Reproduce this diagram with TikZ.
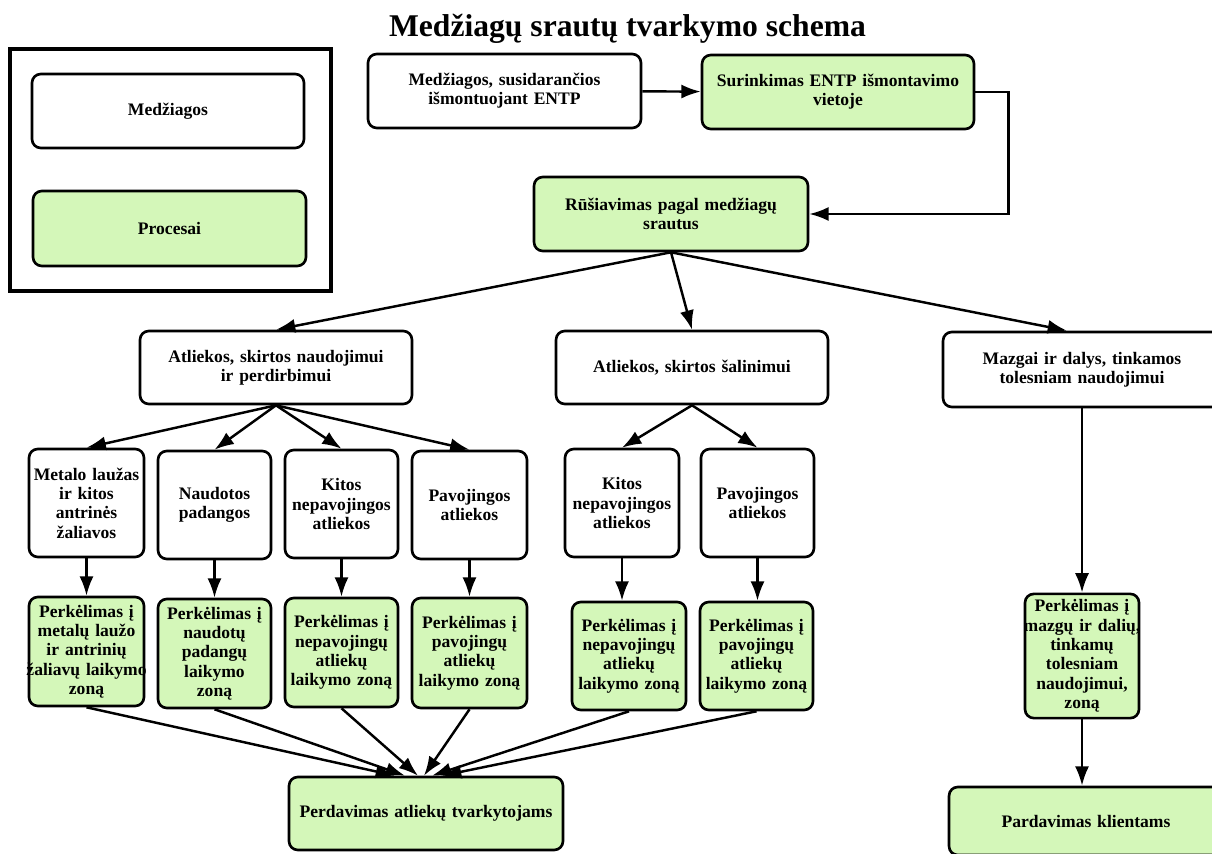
\documentclass[tikz,border=0pt]{standalone}
\usepackage{fontspec}
\setmainfont{Liberation Serif}
\usepackage{xcolor}
\usepackage{tikz}
\usetikzlibrary{arrows.meta}

\definecolor{procgreen}{RGB}{212,247,185}

\newcommand{\wideline}[1]{\makebox[\linewidth]{#1}}

\tikzset{
  boxsize/.style 2 args={text width=#1, minimum width=#1, minimum height=#2},
  mat/.style={draw, line width=1.5pt, rounded corners=5pt, fill=white, align=center, inner xsep=0pt,
    font=\fontsize{10}{11}\selectfont\bfseries},
  proc/.style={mat, fill=procgreen},
  arr/.style={-{Latex[length=11pt,width=8pt]}, line width=1.4pt}
}

\begin{document}
\begin{tikzpicture}[x=0.02cm, y=-0.02cm]
      \useasboundingbox (0,0) rectangle (1212,854);
      \clip (0,0) rectangle (1212,854);

      \node[anchor=base, font=\fontsize{18}{21}\selectfont\bfseries] (title) at (627.5,37){Medžiagų srautų tvarkymo schema};

      % legend
      \node[draw, line width=1.8pt, minimum width=6.42cm, minimum height=4.84cm] (legend) at (170.5,170){};
      \node[mat, boxsize={5.44cm}{1.48cm}] (legmat) at (168,111){Medžiagos};
      \node[proc, boxsize={5.46cm}{1.5cm}] (legproc) at (169.5,228.5){Procesai};

      \node[mat, boxsize={5.46cm}{1.48cm}] (src) at (504.5,91){Medžiagos, susidarančios\\ išmontuojant ENTP};
      \node[proc, boxsize={5.44cm}{1.48cm}] (collect) at (838,92){Surinkimas ENTP išmontavimo\\ vietoje};
      \node[proc, boxsize={5.48cm}{1.48cm}] (sort) at (671,214){Rūšiavimas pagal medžiagų\\ srautus};

      \node[mat, boxsize={5.44cm}{1.46cm}] (reuse) at (276,367.5){Atliekos, skirtos naudojimui\\ ir perdirbimui};
      \node[mat, boxsize={5.44cm}{1.46cm}] (disp) at (692,367.5){Atliekos, skirtos šalinimui};
      \node[mat, boxsize={5.56cm}{1.5cm}] (parts) at (1082,369.5){Mazgai ir dalys, tinkamos\\ tolesniam naudojimui};

      \node[mat, boxsize={2.3cm}{2.16cm}] (metal) at (86.5,503){Metalo laužas\\ ir kitos\\ antrinės\\ žaliavos};
      \node[mat, boxsize={2.26cm}{2.16cm}] (tyres) at (214.5,505){Naudotos\\ padangos};
      \node[mat, boxsize={2.26cm}{2.16cm}] (other1) at (341.5,504){Kitos\\ nepavojingos\\ atliekos};
      \node[mat, boxsize={2.3cm}{2.16cm}] (haz1) at (469.5,505){Pavojingos\\ atliekos};
      \node[mat, boxsize={2.28cm}{2.16cm}] (other2) at (622,503){Kitos\\ nepavojingos\\ atliekos};
      \node[mat, boxsize={2.26cm}{2.16cm}] (haz2) at (757.5,503){Pavojingos\\ atliekos};

      \node[proc, boxsize={2.3cm}{2.18cm}] (mov1) at (86.5,651.5){Perkėlimas į\\ metalų laužo\\ ir antrinių\\ \wideline{žaliavų laikymo}\\ zoną};
      \node[proc, boxsize={2.26cm}{2.18cm}] (mov2) at (214.5,653.5){Perkėlimas į\\ naudotų\\ padangų\\ laikymo\\ zoną};
      \node[proc, boxsize={2.26cm}{2.18cm}] (mov3) at (341.5,652.5){Perkėlimas į\\ nepavojingų\\ atliekų\\ \wideline{laikymo zoną}};
      \node[proc, boxsize={2.3cm}{2.2cm}] (mov4) at (469.5,653){Perkėlimas į\\ pavojingų\\ atliekų\\ \wideline{laikymo zoną}};
      \node[proc, boxsize={2.28cm}{2.16cm}] (mov5) at (629,656){Perkėlimas į\\ nepavojingų\\ atliekų\\ \wideline{laikymo zoną}};
      \node[proc, boxsize={2.26cm}{2.16cm}] (mov6) at (756.5,656){Perkėlimas į\\ pavojingų\\ atliekų\\ \wideline{laikymo zoną}};
      \node[proc, boxsize={2.28cm}{2.16cm}] (mov7) at (1082,656){Perkėlimas į\\ \wideline{mazgų ir dalių,}\\ tinkamų\\ tolesniam\\ naudojimui,\\ zoną};

      \node[proc, boxsize={5.48cm}{1.46cm}] (hand) at (426,813.5){Perdavimas atliekų tvarkytojams};
      \node[proc, boxsize={5.48cm}{1.36cm}] (sell) at (1086,821){Pardavimas klientams};

      \draw[arr] (src) -- (collect);
      \draw[arr] (collect.east) -- ++(33,0) |- (sort.east);

      \draw[arr] (sort.south) -- (reuse.north);
      \draw[arr] (sort.south) -- (disp.north);
      \draw[arr] (sort.south) -- ([xshift=-0.3cm]parts.north);

      \foreach \t in {metal, tyres, other1, haz1}
        \draw[arr] (reuse.south) -- (\t.north);
      \foreach \t in {other2, haz2}
        \draw[arr] (disp.south) -- (\t.north);

      \draw[arr] (metal) -- (mov1);
      \draw[arr] (tyres) -- (mov2);
      \draw[arr] (other1) -- (mov3);
      \draw[arr] (haz1) -- (mov4);
      \draw[arr] (other2.south) -- (other2.south |- mov5.north);
      \draw[arr] (haz2.south) -- (haz2.south |- mov6.north);
      \draw[arr] (parts) -- (mov7);

      \foreach \m/\s in {mov1/-0.62, mov2/-0.42, mov3/-0.16, mov4/-0.04, mov5/0.12, mov6/0.32}
        \draw[arr] (\m.south) -- ([xshift=\s cm]hand.north);
      \draw[arr] (mov7.south) -- (mov7.south |- sell.north);
    \end{tikzpicture}
\end{document}
